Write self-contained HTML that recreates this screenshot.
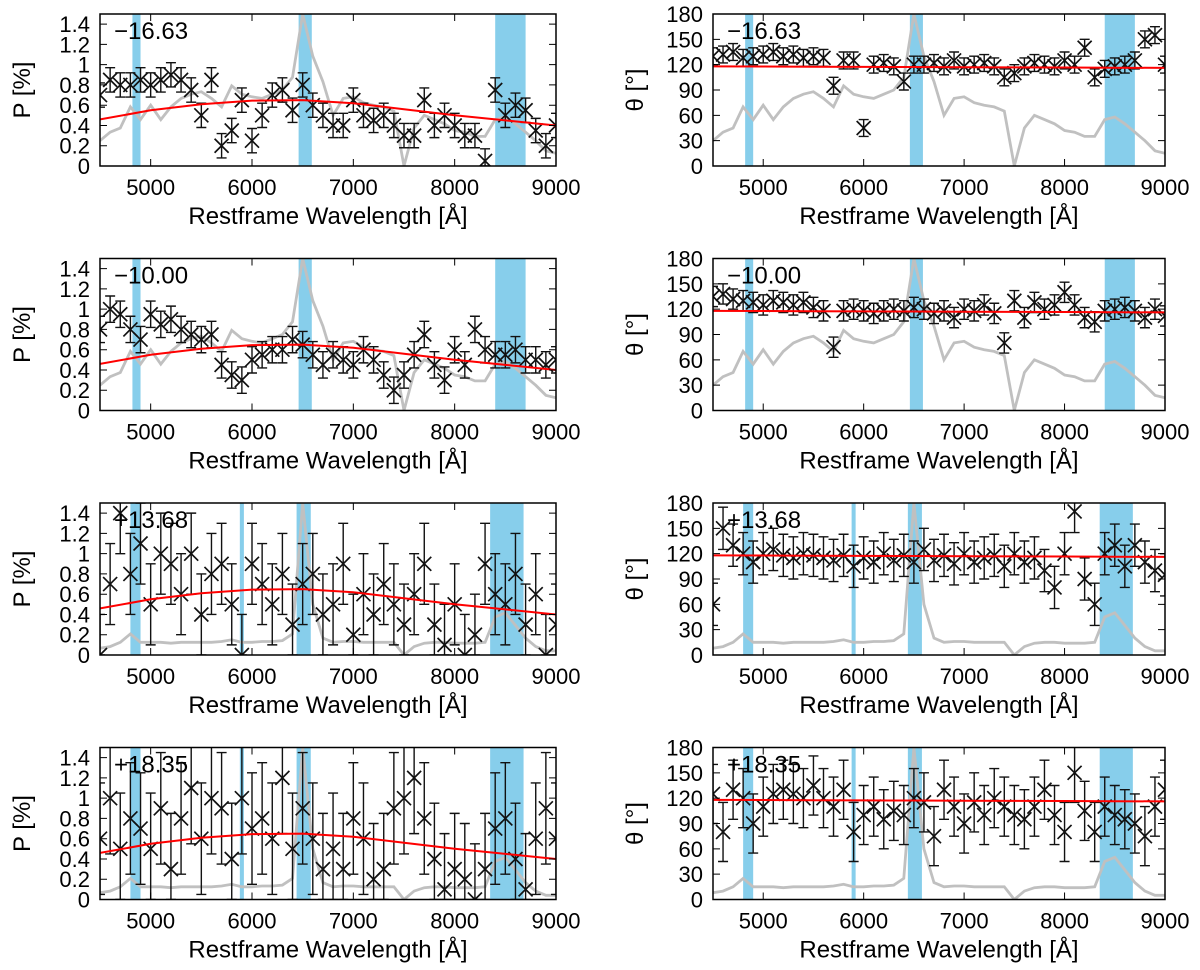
<!DOCTYPE html>
<html><head><meta charset="utf-8">
<style>
html,body{margin:0;padding:0;background:#fff;}
svg{display:block;}
text{font-family:"Liberation Sans",sans-serif;fill:#000;}
</style></head>
<body>
<svg id="chart" width="1200" height="970" viewBox="0 0 1200 970" xmlns="http://www.w3.org/2000/svg"></svg>
<script>
// ---- data ----
const wave = [4500,4600,4700,4800,4900,5000,5100,5200,5300,5400,5500,5600,5700,5800,5900,6000,6100,6200,6300,6400,6500,6600,6700,6800,6900,7000,7100,7200,7300,7400,7500,7600,7700,7800,7900,8000,8100,8200,8300,8400,8500,8600,8700,8800,8900,9000];
const epochs = ["\u221216.63","\u221210.00","+13.68","+18.35"];
const pRow1 = [.7,.85,.8,.8,.85,.8,.85,.9,.85,.75,.5,.85,.2,.35,.65,.25,.5,.7,.75,.55,.8,.6,.5,.4,.4,.65,.5,.45,.5,.4,.3,.3,.65,.4,.5,.4,.3,.3,.05,.75,.5,.6,.55,.35,.2,.4];
const pRow2 = [.8,1.0,.95,.8,.7,.95,.85,.9,.8,.75,.7,.75,.45,.35,.3,.5,.55,.6,.6,.7,.65,.55,.45,.55,.5,.45,.6,.5,.35,.2,.35,.55,.75,.45,.3,.6,.45,.8,.6,.55,.55,.6,.5,.5,.45,.5];
const pRow3 = [0,.7,1.4,.8,1.1,.5,1.0,.9,.6,1.0,.4,.8,.9,.5,0,.9,.7,.5,.8,.3,.7,.8,.4,.5,.9,.2,.6,.4,.7,.5,.3,.6,.9,.3,.1,.5,0,.2,.9,.6,.5,.8,.3,.6,0,.3];
const pRow4 = [.6,1.0,.5,.8,.7,.5,.9,.3,.8,1.1,.6,1.0,.9,.4,1.0,.7,.8,.6,1.2,.5,.9,.6,.3,.5,.3,.8,.6,.2,.3,.9,1.0,1.2,.8,.4,.1,.3,.2,0,.3,.7,.8,.4,.1,.6,.9,.6];
const tRow1 = [130,132,135,128,130,132,135,130,132,128,130,128,95,125,125,45,120,122,118,100,120,120,122,118,125,118,120,122,118,105,110,118,122,120,118,125,120,140,105,115,118,120,125,150,155,120];
const tRow2 = [135,138,132,130,128,125,130,128,125,128,122,118,75,118,120,118,115,118,120,118,122,120,115,118,110,120,118,125,115,80,130,110,128,120,125,140,125,110,105,118,120,122,118,110,120,112];
const tRow3 = [60,150,130,120,110,120,125,118,115,120,118,115,112,118,105,115,110,120,112,118,110,125,112,118,108,120,110,115,118,105,120,110,115,100,80,120,170,90,60,120,130,105,130,110,100,95];
const tRow4 = [125,80,130,120,90,110,125,130,125,120,135,120,110,130,80,100,110,95,105,100,120,115,75,130,110,90,115,100,120,110,100,95,110,130,100,80,150,105,80,110,100,95,90,75,110,130];
const pErr = [0.12,0.13,0.4,0.55];
const tErr = [10,12,25,35];
const fitWave = [4500,5000,5500,6000,6500,7000,7500,8000,8500,9000];
const pFit = [.46,.55,.61,.645,.65,.62,.56,.5,.45,.4];
const tFit = [118,117.8,117.6,117.4,117.2,117,116.8,116.6,116.4,116.2];
const flux1 = [30,40,45,70,55,72,55,70,80,85,88,80,70,95,85,82,80,85,90,105,180,130,100,60,80,82,75,72,70,65,0,45,60,55,50,42,40,35,35,55,58,50,40,30,18,15];
const flux2 = [8,10,15,25,15,15,15,14,15,15,15,15,16,18,15,15,16,16,17,25,180,60,20,15,16,16,15,15,15,15,0,10,14,15,15,14,14,14,15,45,50,35,20,10,5,5];
const bands12 = [[4820,4900],[6460,6590],[8400,8700]];
const bands34 = [[4800,4900],[5880,5920],[6440,6580],[8350,8680]];
const pSets = [pRow1,pRow2,pRow3,pRow4];
const tSets = [tRow1,tRow2,tRow3,tRow4];
const pTicks = [0,.2,.4,.6,.8,1,1.2,1.4];
const pTickLabels = ["0","0.2","0.4","0.6","0.8","1","1.2","1.4"];
const tTicks = [0,30,60,90,120,150,180];
const xTicks = [5000,6000,7000,8000,9000];

const NS = "http://www.w3.org/2000/svg";
const svg = document.getElementById('chart');
function mk(tag, attrs, parent){const e=document.createElementNS(NS,tag);for(const k in attrs)e.setAttribute(k,attrs[k]);(parent||svg).appendChild(e);return e;}

const rowTops = [14,258.5,503,747.5];
const PH = 152;
const cols = [{x0:100,x1:556},{x0:713,x1:1165}];

function drawPanel(row, col){
  const isP = col===0;
  const y0 = rowTops[row], y1 = y0+PH;
  const {x0,x1} = cols[col];
  const ymax = isP?1.5:180;
  const xs = w => x0 + (w-4500)/(9000-4500)*(x1-x0);
  const ys = v => y1 - v/ymax*(y1-y0);
  const g = mk('g',{});
  
  
  const cid = 'clip'+row+'_'+col;
  const cp = mk('clipPath',{id:cid},g);
  mk('rect',{x:x0,y:y0,width:x1-x0,height:PH},cp);
  const inner = mk('g',{'clip-path':'url(#'+cid+')'},g);
  const bands = row<2?bands12:bands34;
  bands.forEach(b=>{
    const r = mk('rect',{x:xs(b[0]),y:y0,width:xs(b[1])-xs(b[0]),height:PH,fill:'#87ceeb'},inner);
    
    
  });
  const flux = row<2?flux1:flux2;
  const fd = wave.map((w,i)=>(i?'L':'M')+xs(w).toFixed(1)+','+ys(flux[i]/180*ymax).toFixed(1)).join('');
  const fl = mk('path',{d:fd,fill:'none',stroke:'#c0c0c0','stroke-width':2.8},inner);
  
  
  const vals = isP?pSets[row]:tSets[row];
  const err = isP?pErr[row]:tErr[row];
  const dg = mk('g',{stroke:'#111','stroke-width':1.4,fill:'none'},inner);
  
  
  wave.forEach((w,i)=>{
    const cx=xs(w), cy=ys(vals[i]), ya=ys(vals[i]+err), yb=ys(Math.max(0,vals[i]-err));
    mk('path',{d:`M${cx},${ya}V${yb}M${cx-5},${ya}H${cx+5}M${cx-5},${yb}H${cx+5}`},dg);
    const m = mk('path',{d:`M${cx-7},${cy-7}L${cx+7},${cy+7}M${cx-7},${cy+7}L${cx+7},${cy-7}`,'stroke-width':1.7},dg);
    
    
  });
  const fit = isP?pFit:tFit;
  const rd = fitWave.map((w,i)=>(i?'L':'M')+xs(w).toFixed(1)+','+ys(fit[i]).toFixed(1)).join('');
  const rl = mk('path',{d:rd,fill:'none',stroke:'#ff0000','stroke-width':2},inner);
  
  
  mk('rect',{x:x0,y:y0,width:x1-x0,height:PH,fill:'none',stroke:'#000','stroke-width':1.5},g);
  xTicks.forEach(t=>{
    const x=xs(t);
    mk('path',{d:`M${x},${y1}V${y1-7}M${x},${y0}V${y0+7}`,stroke:'#000','stroke-width':1},g);
    const tl = mk('text',{x:x,y:y1+29,'font-size':22,'text-anchor':'middle'},g);
    tl.textContent=t;
    
    
  });
  const yt = isP?pTicks:tTicks;
  yt.forEach((t,i)=>{
    const y=ys(t);
    mk('path',{d:`M${x0},${y}H${x0+7}M${x1},${y}H${x1-7}`,stroke:'#000','stroke-width':1},g);
    const tl = mk('text',{x:x0-10,y:y+8,'font-size':22,'text-anchor':'end'},g);
    tl.textContent = isP?pTickLabels[i]:t;
    
    
  });
  const xt = mk('text',{x:(x0+x1)/2,y:y1+58,'font-size':24,'text-anchor':'middle'},g);
  xt.textContent='Restframe Wavelength [\u00c5]';
  
  
  const ycx = isP?30:643, ycy=(y0+y1)/2;
  const ytl = mk('text',{x:ycx,y:ycy,'font-size':24,'text-anchor':'middle',transform:`rotate(-90 ${ycx} ${ycy})`},g);
  ytl.textContent = isP?'P [%]':'\u03b8 [\u00b0]';
  
  
  const el = mk('text',{x:x0+14,y:y0+25,'font-size':24},g);
  el.textContent = epochs[row];
  
  
}
for(let r=0;r<4;r++){drawPanel(r,0);drawPanel(r,1);}
</script>
</body></html>
